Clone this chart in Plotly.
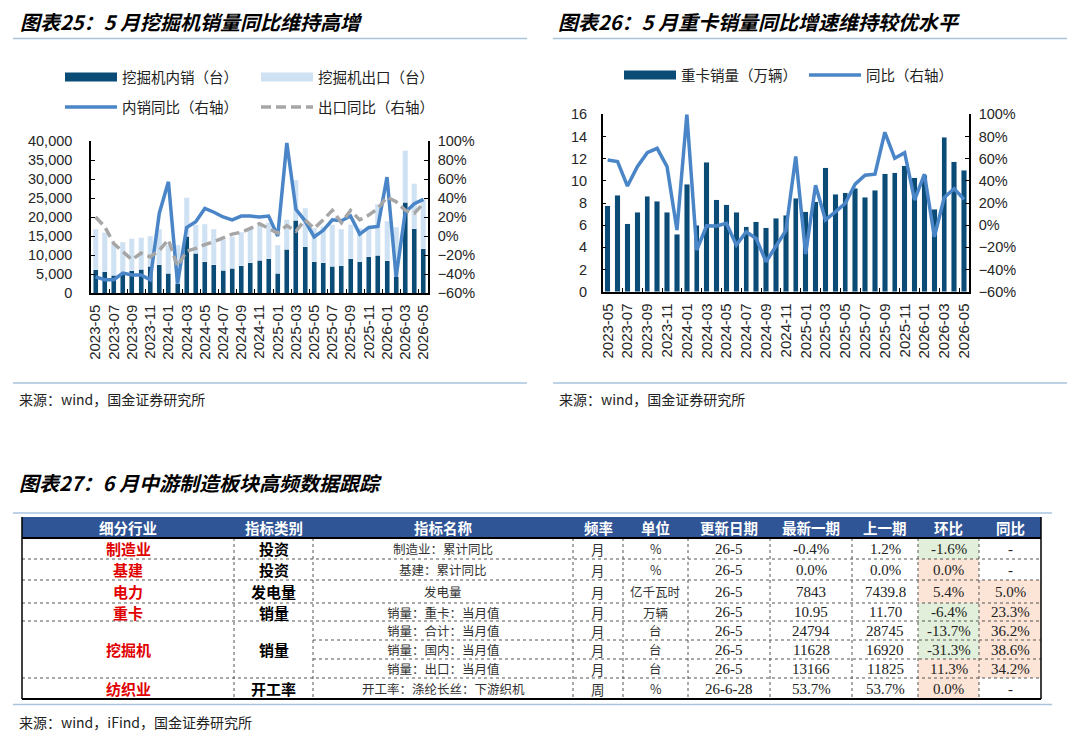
import plotly.graph_objects as go

W, H = 1080, 740

# ---- chart 25: excavator sales ----
months = [f"{y}-{m:02d}" for y, m in
          [(2023, m) for m in range(5, 13)] + [(2024, m) for m in range(1, 13)] +
          [(2025, m) for m in range(1, 13)] + [(2026, m) for m in range(1, 6)]]

exc_domestic = [6100, 5600, 4650, 5000, 5800, 6300, 7100, 7500, 5200, 2400,
                15000, 10400, 8200, 7500, 5950, 6550, 7150, 7950, 8650, 9000,
                5150, 11450, 19200, 12150, 8200, 7950, 7000, 7200, 8950, 8200,
                9500, 10000, 8450, 4300, 23900, 16920, 11628]
exc_export = [10650, 10200, 8150, 8300, 8500, 8300, 7800, 9250, 7400, 10200,
              10100, 7600, 9900, 9300, 8000, 8250, 8850, 8950, 9050, 9500,
              7450, 7850, 10500, 10100, 8900, 9550, 11000, 9550, 9050, 8800,
              7800, 13300, 10450, 13000, 13500, 11825, 13166]
exc_domestic_yoy = [-43, -46, -46, -39, -41, -41, -46, 24, 57, -50,
                    9, 15, 29, 25, 20, 17, 21, 21, 20, 21,
                    0, 98, 28, 16, -1, 6, 17, 16, 21, 2,
                    9, 10, 62, -43, 25, 34, 38.6]
exc_export_yoy = [20, 10, -8, -16, -25, -18, -22, -15, -4, -32,
                  -16, -13, -9, -6, -2, 2, 4, 8, 13, 8,
                  3, 11, 5, 17, 8, 17, 27, 14, 27, 17,
                  22, 29, 41, 36, 27, 24, 34.2]

# ---- chart 26: heavy trucks ----
truck_sales = [7.75, 8.7, 6.15, 7.16, 8.6, 8.17, 7.16, 5.2, 9.7, 6.0,
               11.68, 8.28, 7.83, 7.16, 5.88, 6.32, 5.79, 6.63, 6.9, 8.42,
               7.22, 8.12, 11.19, 8.81, 8.93, 9.35, 8.51, 9.17, 10.62, 10.74,
               11.37, 10.29, 10.5, 7.43, 13.92, 11.70, 10.95]
truck_yoy = [58.8, 57.3, 35.3, 52.8, 65.4, 69.3, 52.8, -4.4, 100, -22.4,
             -0.5, -0.8, 1.6, -18, -6, -12, -33, -19.4, -5, 62,
             -26, 36, 4.7, 12, 19.7, 37, 45, 46, 83.8, 60.3,
             65.4, 22.7, 46, -10.4, 25, 33, 23.3]

# ---- table 27 ----
headers = ["细分行业", "指标类别", "指标名称", "频率", "单位", "更新日期", "最新一期", "上一期", "环比", "同比"]
sectors = ["制造业", "基建", "电力", "重卡", "挖掘机", "纺织业"]
sector_categories = ["投资", "投资", "发电量", "销量", "销量", "开工率"]
sector_rows = [1, 1, 1, 1, 3, 1]
indicator_names = ["制造业：累计同比", "基建：累计同比", "发电量", "销量：重卡：当月值",
                   "销量：合计：当月值", "销量：国内：当月值", "销量：出口：当月值", "开工率：涤纶长丝：下游织机"]
freqs = ["月", "月", "月", "月", "月", "月", "月", "周"]
units = ["%", "%", "亿千瓦时", "万辆", "台", "台", "台", "%"]
update_dates = ["26-5", "26-5", "26-5", "26-5", "26-5", "26-5", "26-5", "26-6-28"]
latest = ["-0.4%", "0.0%", "7843", "10.95", "24794", "11628", "13166", "53.7%"]
previous = ["1.2%", "0.0%", "7439.8", "11.70", "28745", "16920", "11825", "53.7%"]
mom = ["-1.6%", "0.0%", "5.4%", "-6.4%", "-13.7%", "-31.3%", "11.3%", "0.0%"]
yoy = ["-", "-", "5.0%", "23.3%", "36.2%", "38.6%", "34.2%", "-"]

DARK = "#0A4C76"
LIGHT = "#CFE2F3"
BLUE_LINE = "#4A86C7"
GRAY_LINE = "#A6A6A6"
CJK = "Noto Sans CJK SC"
LAT = "Liberation Sans, Arial"
SERIF = "Liberation Serif, Times New Roman"


def px(x):
    return x / W


def py(y):
    return 1 - y / H


fig = go.Figure()

# bars (legend shown through wide swatch proxies below)
fig.add_trace(go.Bar(x=months, y=exc_domestic, name="挖掘机内销（台）", marker_color=DARK,
                     xaxis="x", yaxis="y", showlegend=False))
fig.add_trace(go.Bar(x=months, y=exc_export, name="挖掘机出口（台）", marker_color=LIGHT,
                     xaxis="x", yaxis="y", showlegend=False))
fig.add_trace(go.Scatter(x=months, y=exc_domestic_yoy, name="内销同比（右轴）", mode="lines",
                         line=dict(color=BLUE_LINE, width=3.5), xaxis="x", yaxis="y2", legend="legend2"))
fig.add_trace(go.Scatter(x=months, y=exc_export_yoy, name="出口同比（右轴）", mode="lines",
                         line=dict(color=GRAY_LINE, width=3.5, dash="10px,5px"), xaxis="x", yaxis="y2",
                         legend="legend2"))
fig.add_trace(go.Bar(x=months, y=truck_sales, name="重卡销量（万辆）", marker_color=DARK,
                     xaxis="x2", yaxis="y3", showlegend=False))
fig.add_trace(go.Scatter(x=months, y=truck_yoy, name="同比（右轴）", mode="lines",
                         line=dict(color=BLUE_LINE, width=3.5), xaxis="x2", yaxis="y4", legend="legend3"))

# legend swatches for the bar series
for nm, col, lg, ax in [("挖掘机内销（台）", DARK, "legend", ("x", "y")),
                        ("挖掘机出口（台）", LIGHT, "legend", ("x", "y")),
                        ("重卡销量（万辆）", DARK, "legend3", ("x2", "y3"))]:
    fig.add_trace(go.Scatter(x=[None], y=[None], mode="lines", name=nm, line=dict(color=col, width=9),
                             xaxis=ax[0], yaxis=ax[1], legend=lg, legendrank=1, hoverinfo="skip"))

tick_font = dict(family=LAT, size=14.5, color="#262626")
axis_common = dict(showline=True, linecolor="black", linewidth=1.5, showgrid=False, zeroline=False,
                   ticks="inside", ticklen=4, tickcolor="black", tickfont=tick_font)
x_common = dict(axis_common, type="category", tickmode="linear", tick0=0, dtick=2,
                tickson="boundaries", tickangle=-90, range=[-0.5, 36.5], ticklabelstandoff=4,
                tickfont=dict(family=LAT, size=15, color="#262626"))
legend_font = dict(family=CJK, size=14.5, color="#222")

fig.update_layout(
    width=W, height=H, margin=dict(l=0, r=0, t=0, b=0, autoexpand=False),
    paper_bgcolor="white", plot_bgcolor="white",
    barmode="stack", bargap=0.45,
    xaxis=dict(x_common, domain=[px(91), px(428)], anchor="y"),
    yaxis=dict(axis_common, domain=[py(293), py(141)], range=[0, 40000], dtick=5000,
               tickformat=",", anchor="x", ticklabelstandoff=14),
    yaxis2=dict(axis_common, overlaying="y", side="right", anchor="x", range=[-60, 100], dtick=20,
                ticksuffix="%", ticklabelstandoff=5),
    xaxis2=dict(x_common, domain=[px(602.7), px(969)], anchor="y3"),
    yaxis3=dict(axis_common, domain=[py(291.7), py(114.3)], range=[0, 16], dtick=2, anchor="x2",
                ticklabelstandoff=11),
    yaxis4=dict(axis_common, overlaying="y3", side="right", anchor="x2", range=[-60, 100], dtick=20,
                ticksuffix="%", ticklabelstandoff=5),
    legend=dict(orientation="h", x=px(60), y=py(61), xanchor="left", yanchor="top", traceorder="normal",
                entrywidth=129, itemwidth=52, font=legend_font, bgcolor="rgba(0,0,0,0)"),
    legend2=dict(orientation="h", x=px(60), y=py(91), xanchor="left", yanchor="top", traceorder="normal",
                 entrywidth=129, itemwidth=52, font=legend_font, bgcolor="rgba(0,0,0,0)"),
    legend3=dict(orientation="h", x=px(619), y=py(59), xanchor="left", yanchor="top", traceorder="normal",
                 entrywidth=118, itemwidth=52, font=legend_font, bgcolor="rgba(0,0,0,0)"),
)

shapes = []
annotations = []

title_font = dict(family=CJK, size=20, color="black", weight="bold", style="italic")
src_font = dict(family=CJK, size=14, color="#222")
RULE = "#A9C4DC"


def text(x, y, s, font, xanchor="left"):
    annotations.append(dict(x=px(x), y=py(y), xref="paper", yref="paper", text=s, showarrow=False,
                            xanchor=xanchor, yanchor="middle", font=font))


def hline(x0, x1, y, color, width, dash="solid"):
    shapes.append(dict(type="line", xref="paper", yref="paper", x0=px(x0), x1=px(x1), y0=py(y), y1=py(y),
                       line=dict(color=color, width=width, dash=dash)))


def vline(x, y0, y1, color, width, dash="solid"):
    shapes.append(dict(type="line", xref="paper", yref="paper", x0=px(x), x1=px(x), y0=py(y0), y1=py(y1),
                       line=dict(color=color, width=width, dash=dash)))


# chart titles and sources
text(18, 21, "图表25：5 月挖掘机销量同比维持高增", title_font)
text(556, 21, "图表26：5 月重卡销量同比增速维持较优水平", title_font)
hline(13, 527, 38.5, RULE, 1.5)
hline(553, 1067, 38.5, RULE, 1.5)
hline(13, 527, 383, RULE, 1.5)
hline(553, 1067, 383, RULE, 1.5)
text(17, 399, "来源：wind，国金证券研究所", src_font)
text(557, 399, "来源：wind，国金证券研究所", src_font)

# table
text(17, 482, "图表27：6 月中游制造板块高频数据跟踪", title_font)
text(17, 722, "来源：wind，iFind，国金证券研究所", src_font)

col_edges = [22, 234, 313, 573, 623, 688, 770, 852, 918, 979, 1041]
head_top, head_bot = 517, 538
row_edges = [538, 559, 580, 603, 621, 640, 659, 678, 699]
ORANGE = "#FCE4D6"
GREEN = "#E2EFDA"

hline(13, 1052, 513, RULE, 1.5)
hline(13, 1052, 704.5, RULE, 1.5)
shapes.append(dict(type="rect", xref="paper", yref="paper", x0=px(col_edges[0]), x1=px(col_edges[-1]),
                   y0=py(head_bot), y1=py(head_top), fillcolor="#2F5597", line=dict(width=0), layer="below"))
for c, h in enumerate(headers):
    text((col_edges[c] + col_edges[c + 1]) / 2, (head_top + head_bot) / 2, h,
         dict(family=CJK, size=14.5, color="white", weight="bold"), "center")

# cell fills for change columns
for r in range(len(mom)):
    for c, vals in [(8, mom), (9, yoy)]:
        v = vals[r]
        if v == "-":
            continue
        fill = GREEN if v.startswith("-") else ORANGE
        shapes.append(dict(type="rect", xref="paper", yref="paper", x0=px(col_edges[c]), x1=px(col_edges[c + 1]),
                           y0=py(row_edges[r + 1]), y1=py(row_edges[r]), fillcolor=fill, line=dict(width=0),
                           layer="below"))

# merged sector/category cells
merged_inner = set()
r0 = 0
for name, cat, n in zip(sectors, sector_categories, sector_rows):
    yc = (row_edges[r0] + row_edges[r0 + n]) / 2
    text((col_edges[0] + col_edges[1]) / 2, yc, name, dict(family=CJK, size=15, color="#E00000", weight="bold"),
         "center")
    text((col_edges[1] + col_edges[2]) / 2, yc, cat, dict(family=CJK, size=15, color="black", weight="bold"),
         "center")
    for k in range(1, n):
        merged_inner.add(r0 + k)
    r0 += n

# per-row cells
cell_cols = [indicator_names, freqs, units, update_dates, latest, previous, mom, yoy]
for r in range(len(indicator_names)):
    yc = (row_edges[r] + row_edges[r + 1]) / 2
    for k, vals in enumerate(cell_cols):
        c = k + 2
        s = vals[r]
        if k in (0, 1, 2):
            f = dict(family=CJK, size=12.5 if k != 1 else 13.5, color="#333")
        else:
            f = dict(family=SERIF, size=15, color="#222")
        text((col_edges[c] + col_edges[c + 1]) / 2, yc, s, f, "center")

# grid lines
for r in range(1, len(row_edges) - 1):
    x0 = col_edges[2] if r in merged_inner else col_edges[0]
    hline(x0, col_edges[-1], row_edges[r], "#555", 1, "dot")
for c in range(1, len(col_edges) - 1):
    vline(col_edges[c], row_edges[0], row_edges[-1], "#555", 1, "dot")
vline(col_edges[0], head_top, row_edges[-1], "black", 1.5)
vline(col_edges[-1], head_top, row_edges[-1], "black", 1.5)
hline(col_edges[0], col_edges[-1], head_bot, "black", 2)
hline(col_edges[0], col_edges[-1], row_edges[-1], "black", 2)

fig.update_layout(shapes=shapes, annotations=annotations)

# page body has a default 8px margin; drop it so the figure sits at the window origin
fig.write_html("out.html", config={"displayModeBar": False},
               post_script="document.body.style.margin='0';")
